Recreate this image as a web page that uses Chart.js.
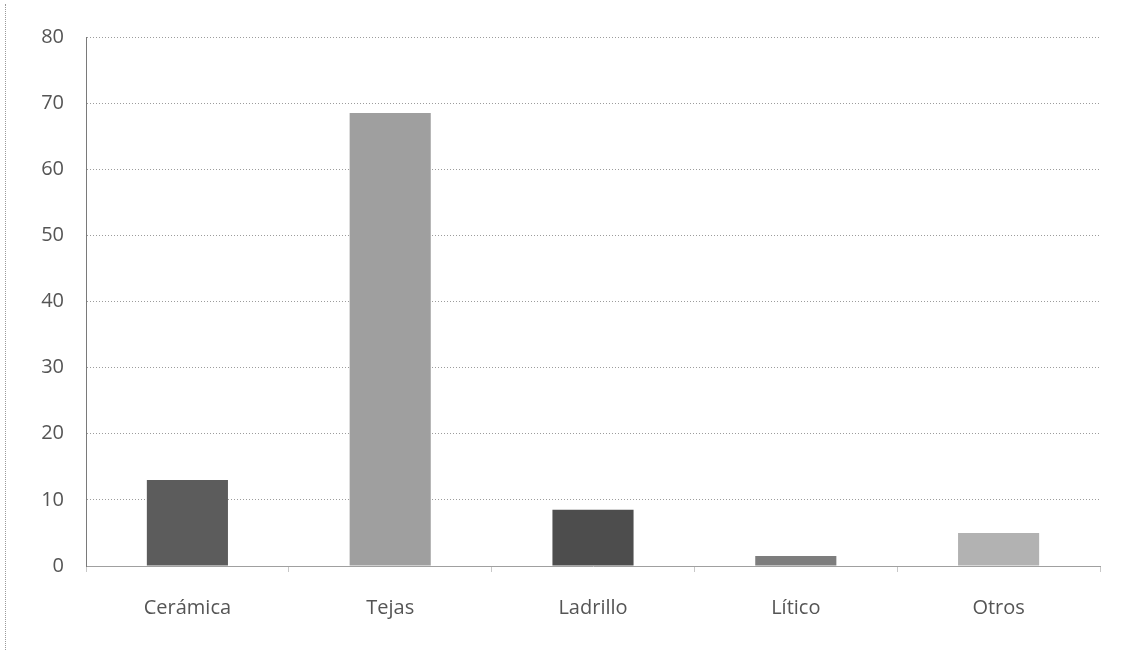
<!DOCTYPE html>
<html>
<head>
<meta charset="utf-8">
<script src="https://cdn.jsdelivr.net/npm/chart.js@4.4.1/dist/chart.umd.min.js"></script>
<style>
  html, body { margin: 0; padding: 0; background: #fff; }
  #wrap { position: relative; width: 1124px; height: 650px; }
  #edge { position: absolute; left: 5px; top: 4px; bottom: 0; border-left: 1px dotted #9a9a9a; }
  canvas { display: block; }
</style>
</head>
<body>
<div id="wrap">
  <div id="edge"></div>
  <canvas id="c" width="1124" height="650"></canvas>
</div>
<script>
// Material categories and counts
const categories = ['Cerámica', 'Tejas', 'Ladrillo', 'Lítico', 'Otros'];
const counts = [13, 68.5, 8.5, 1.5, 5];
const barColors = ['#5c5c5c', '#9f9f9f', '#4d4d4d', '#7d7d7d', '#b2b2b2'];
const yTicks = [0, 10, 20, 30, 40, 50, 60, 70, 80];

const font = { family: '"Open Sans", sans-serif', size: 20 };

new Chart(document.getElementById('c'), {
  type: 'bar',
  data: {
    labels: categories,
    datasets: [{
      data: counts,
      backgroundColor: barColors,
      borderWidth: 0,
      categoryPercentage: 1,
      barPercentage: 0.4
    }]
  },
  options: {
    responsive: false,
    animation: false,
    layout: { padding: { left: 0, top: 37, right: 24, bottom: 0 } },
    plugins: { legend: { display: false }, tooltip: { enabled: false } },
    scales: {
      x: {
        grid: {
          offset: true,
          drawOnChartArea: false,
          drawTicks: true,
          tickLength: 6,
          color: '#c8c8c8'
        },
        border: { display: true, color: '#a0a0a0', dash: [2, 3] },
        ticks: { color: '#555', font: font, padding: 24 },
        afterFit: s => { s.height = 84; }
      },
      y: {
        min: 0,
        max: 80,
        afterBuildTicks: s => { s.ticks = yTicks.map(v => ({ value: v })); },
        grid: { color: '#9c9c9c', drawTicks: false, lineWidth: 1 },
        border: { display: true, color: '#7a7a7a', dash: [1, 2] },
        ticks: { color: '#555', font: font, padding: 22 },
        afterFit: s => { s.width = 86; }
      }
    }
  }
});
</script>
</body>
</html>
